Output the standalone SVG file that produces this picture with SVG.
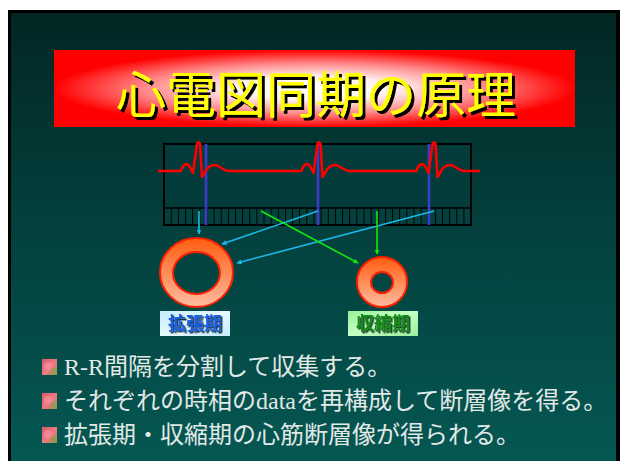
<svg xmlns="http://www.w3.org/2000/svg" xmlns:xlink="http://www.w3.org/1999/xlink" width="620" height="461" viewBox="0 0 620 461">
  <style>
    .title { font-family: "Noto Sans CJK JP", sans-serif; font-size: 50px; text-anchor: middle; fill: #ffff00; filter: url(#shadowBig); }
    .body { font-family: "Liberation Serif", "Noto Sans CJK JP", serif; font-size: 24px; fill: #e2e9e7; }
    .tag { font-family: "Noto Sans CJK JP", sans-serif; font-size: 18px; font-weight: bold; text-anchor: middle; filter: url(#shadowSmall); }
    .cyan { stroke: #1cb8e8; stroke-width: 1.6; fill: none; marker-end: url(#headCyan); }
    .green { stroke: #10e810; stroke-width: 1.6; fill: none; marker-end: url(#headGreen); }
    .beat { stroke: #3c3cc8; stroke-width: 2.6; }
    .ring { stroke: #ff1e00; stroke-width: 2; fill: url(#ringFill); fill-rule: evenodd; }
  </style>
  <defs>
    <linearGradient id="bg" x1="0" y1="0" x2="0" y2="1">
      <stop offset="0" stop-color="#022624"/>
      <stop offset="0.45" stop-color="#033f3c"/>
      <stop offset="1" stop-color="#055853"/>
    </linearGradient>
    <radialGradient id="banner" cx="0.5" cy="0.5" r="0.5">
      <stop offset="0" stop-color="#ffffff"/>
      <stop offset="0.3" stop-color="#fff2f2"/>
      <stop offset="0.65" stop-color="#ff8a8a"/>
      <stop offset="1" stop-color="#ff0000"/>
    </radialGradient>
    <linearGradient id="ringFill" x1="0" y1="0" x2="0" y2="1">
      <stop offset="0" stop-color="#ff5c10"/>
      <stop offset="1" stop-color="#ffbca0"/>
    </linearGradient>
    <linearGradient id="tagBlue" x1="0" y1="0" x2="1" y2="1">
      <stop offset="0" stop-color="#c4ecff"/>
      <stop offset="0.5" stop-color="#e6f8ff"/>
      <stop offset="1" stop-color="#c4ecff"/>
    </linearGradient>
    <linearGradient id="tagGreen" x1="0" y1="0" x2="1" y2="1">
      <stop offset="0" stop-color="#98f098"/>
      <stop offset="0.5" stop-color="#c4ffc4"/>
      <stop offset="1" stop-color="#98f098"/>
    </linearGradient>
    <linearGradient id="bulletFill" x1="0" y1="0" x2="1" y2="1">
      <stop offset="0" stop-color="#d85a6a"/>
      <stop offset="0.55" stop-color="#f07a84"/>
      <stop offset="1" stop-color="#8a8a4a"/>
    </linearGradient>
    <filter id="shadowBig" x="-5%" y="-10%" width="110%" height="130%">
      <feDropShadow dx="3" dy="3" stdDeviation="0" flood-color="#000000" flood-opacity="1"/>
    </filter>
    <filter id="shadowSmall" x="-5%" y="-10%" width="115%" height="130%">
      <feDropShadow dx="1.5" dy="1.5" stdDeviation="0.3" flood-color="#0a2020" flood-opacity="0.9"/>
    </filter>
    <pattern id="ticks" patternUnits="userSpaceOnUse" x="170.7" y="0" width="7.14" height="40">
      <rect x="0" y="0" width="1" height="40" fill="#000000"/>
    </pattern>
    <marker id="headCyan" viewBox="0 0 10 10" refX="9" refY="5" markerWidth="5" markerHeight="5" orient="auto" markerUnits="userSpaceOnUse">
      <path d="M0,0 L10,5 L0,10 Z" fill="#1cb8e8"/>
    </marker>
    <marker id="headGreen" viewBox="0 0 10 10" refX="9" refY="5" markerWidth="5" markerHeight="5" orient="auto" markerUnits="userSpaceOnUse">
      <path d="M0,0 L10,5 L0,10 Z" fill="#10e810"/>
    </marker>
    <g id="bullet">
      <rect x="0" y="0" width="15" height="16" fill="url(#bulletFill)"/>
      <rect x="9" y="9" width="6" height="7" fill="#9a9a50" opacity="0.8"/>
      <circle cx="6" cy="7" r="4" fill="#f590a0" opacity="0.7"/>
    </g>
  </defs>

  <!-- slide frame and background -->
  <rect x="0" y="0" width="620" height="461" fill="#ffffff"/>
  <rect x="8" y="10" width="612" height="455" fill="#000000"/>
  <rect x="11" y="13" width="605" height="452" fill="url(#bg)"/>

  <!-- title banner -->
  <g id="title">
    <rect x="54" y="50" width="521" height="77" fill="url(#banner)"/>
    <text class="title" x="316" y="113">心電図同期の原理</text>
  </g>

  <!-- ECG strip -->
  <g id="ecg">
    <rect x="164" y="144" width="307" height="81" fill="#033c3a" stroke="#000000" stroke-width="2"/>
    <rect x="164" y="208" width="307" height="17" fill="#04403d"/>
    <rect x="164" y="208" width="307" height="17" fill="url(#ticks)"/>
    <line x1="164" y1="208" x2="471" y2="208" stroke="#000000" stroke-width="1.5"/>
    <rect x="164" y="144" width="307" height="81" fill="none" stroke="#000000" stroke-width="2"/>
    <line class="beat" x1="206" y1="144" x2="206" y2="225"/>
    <line class="beat" x1="318" y1="144" x2="318" y2="225"/>
    <line class="beat" x1="429" y1="144" x2="429" y2="225"/>
    <path fill="none" stroke="#ff0000" stroke-width="2.6" stroke-linejoin="round"
      d="M158,171 L181,171 C183,164 187,162 190,167 L193,173 L197,144 L198.5,142 L200,144 L202,177 L205,172 C208,166 212,165 215,165 C219,165 222,170 228,171
         L301.5,171 C303.5,164 307.5,162 310.5,167 L313.5,173 L317.5,144 L319,142 L320.5,144 L322.5,177 L325.5,172 C328.5,166 332.5,165 335.5,165 C339.5,165 342.5,170 348.5,171
         L416.5,171 C418.5,164 422.5,162 425.5,167 L428.5,173 L432.5,144 L434,142 L435.5,144 L437.5,177 L440.5,172 C443.5,166 447.5,165 450.5,165 C454.5,165 457.5,170 463.5,171 L480,171"/>
  </g>

  <!-- diastolic ring -->
  <g id="diastole">
    <path class="ring" d="M160,272.5 A36.5,34.5 0 1,0 233,272.5 A36.5,34.5 0 1,0 160,272.5 Z M173,273 A23.5,21 0 1,1 220,273 A23.5,21 0 1,1 173,273 Z"/>
  </g>

  <!-- systolic ring -->
  <g id="systole">
    <path class="ring" d="M357,282 A25,25 0 1,0 407,282 A25,25 0 1,0 357,282 Z M371,282.5 A11,10.5 0 1,1 393,282.5 A11,10.5 0 1,1 371,282.5 Z"/>
  </g>

  <!-- connectors: phase samples to images -->
  <g id="connectors">
    <line class="cyan" x1="199" y1="211" x2="199" y2="234"/>
    <line class="cyan" x1="318" y1="211" x2="222" y2="244"/>
    <line class="cyan" x1="434" y1="211" x2="237" y2="263"/>
    <line class="green" x1="261" y1="211" x2="358" y2="263"/>
    <line class="green" x1="377" y1="211" x2="377" y2="254"/>
  </g>

  <!-- phase labels -->
  <g id="label-diastole">
    <rect x="160" y="311" width="70" height="25" fill="url(#tagBlue)"/>
    <text class="tag" x="195" y="330" fill="#1a5ee0">拡張期</text>
  </g>
  <g id="label-systole">
    <rect x="348" y="311" width="70" height="25" fill="url(#tagGreen)"/>
    <text class="tag" x="383" y="330" fill="#168a16">収縮期</text>
  </g>

  <!-- bullet list -->
  <g id="notes">
    <use xlink:href="#bullet" x="42" y="359"/>
    <text class="body" x="64" y="375">R-R間隔を分割して収集する。</text>
    <use xlink:href="#bullet" x="42" y="393"/>
    <text class="body" x="64" y="409">それぞれの時相のdataを再構成して断層像を得る。</text>
    <use xlink:href="#bullet" x="42" y="427"/>
    <text class="body" x="64" y="443">拡張期・収縮期の心筋断層像が得られる。</text>
  </g>
</svg>
